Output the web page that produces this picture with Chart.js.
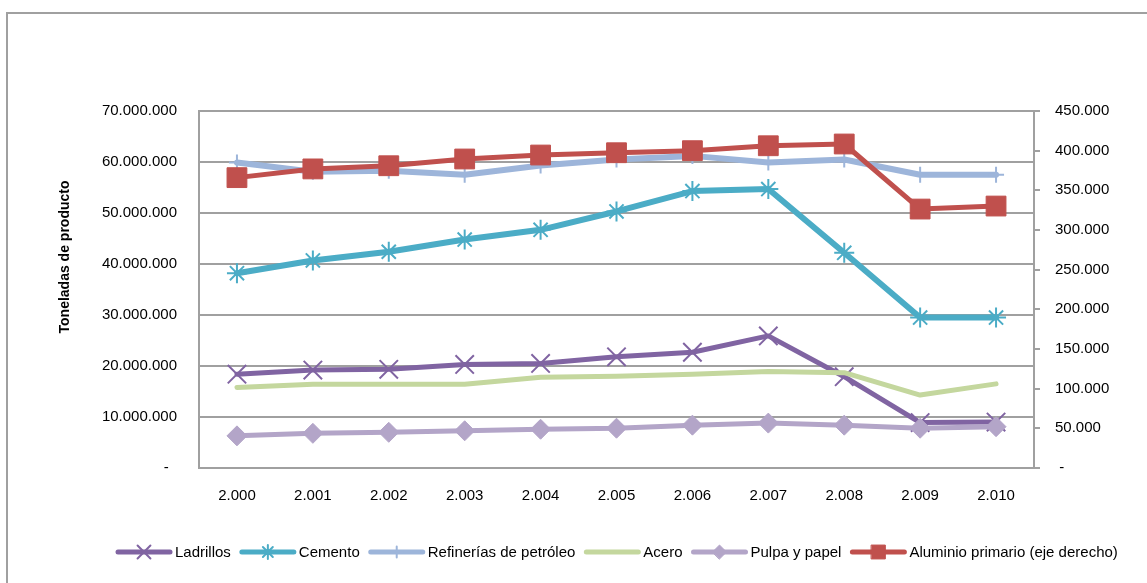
<!DOCTYPE html>
<html>
<head>
<meta charset="utf-8">
<title>Toneladas de producto</title>
<script src="https://cdn.jsdelivr.net/npm/chart.js@4/dist/chart.umd.min.js"></script>
<style>
  body { margin: 0; background: #fff; overflow: hidden; }
  #marco { position: absolute; left: 6px; top: 12px; width: 1200px; height: 650px; border: 2px solid #a0a0a0; box-sizing: border-box; }
  #grafica { position: absolute; left: 0; top: 0; }
</style>
</head>
<body>
<div id="marco"></div>
<canvas id="grafica" width="1147" height="583"></canvas>
<script>
// Años (eje X)
const anios = ["2.000", "2.001", "2.002", "2.003", "2.004", "2.005", "2.006", "2.007", "2.008", "2.009", "2.010"];

// Toneladas (eje izquierdo)
const ladrillos   = [18400000, 19200000, 19350000, 20300000, 20500000, 21800000, 22700000, 25900000, 17900000, 8900000, 9000000];
const cemento     = [38200000, 40700000, 42400000, 44800000, 46700000, 50300000, 54300000, 54700000, 42200000, 29500000, 29500000];
const refinerias  = [59900000, 58100000, 58300000, 57500000, 59300000, 60500000, 61200000, 59900000, 60500000, 57500000, 57500000];
const acero       = [15800000, 16400000, 16400000, 16400000, 17800000, 18000000, 18400000, 18900000, 18700000, 14300000, 16500000];
const pulpaPapel  = [6300000, 6800000, 7000000, 7300000, 7600000, 7800000, 8400000, 8800000, 8400000, 7800000, 8100000];

// Toneladas (eje derecho)
const aluminio    = [366000, 377000, 381000, 389500, 394500, 397400, 400000, 406200, 408400, 326400, 330200];

const FUENTE = "'Liberation Sans', Arial, sans-serif";
const GRIS = "#a0a0a0";

// formato con puntos de miles, el cero se muestra como guion
function miles(v) {
  return String(Math.round(v)).replace(/\B(?=(\d{3})+(?!\d))/g, ".");
}

// leyenda dibujada a mano: línea gruesa con el marcador en medio
const leyendaPlugin = {
  id: "leyendaLinea",
  afterDraw(chart) {
    const ctx = chart.ctx;
    const y = 552;
    let x = 116;
    ctx.save();
    ctx.font = "15px " + FUENTE;
    ctx.textBaseline = "middle";
    chart.data.datasets.forEach(ds => {
      ctx.strokeStyle = ds.borderColor;
      ctx.lineWidth = 5;
      ctx.lineCap = "round";
      ctx.beginPath();
      ctx.moveTo(x + 2, y);
      ctx.lineTo(x + 54, y);
      ctx.stroke();
      if (ds.pointRadius > 0) {
        ctx.fillStyle = ds.pointBackgroundColor;
        ctx.strokeStyle = ds.pointBorderColor;
        ctx.lineWidth = ds.pointBorderWidth;
        Chart.helpers.drawPoint(ctx, {
          pointStyle: ds.pointStyle,
          radius: ds.pointRadius * 0.7,
          rotation: 0,
          borderWidth: ds.pointBorderWidth
        }, x + 28, y);
      }
      ctx.fillStyle = "#000";
      ctx.fillText(ds.label, x + 59, y + 1);
      x += 59 + ctx.measureText(ds.label).width + 9;
    });
    ctx.restore();
  }
};

// título del eje izquierdo
const tituloPlugin = {
  id: "tituloEje",
  afterDraw(chart) {
    const ctx = chart.ctx;
    ctx.save();
    ctx.translate(65, 257);
    ctx.rotate(-Math.PI / 2);
    ctx.font = "bold 14px " + FUENTE;
    ctx.fillStyle = "#000";
    ctx.textAlign = "center";
    ctx.textBaseline = "middle";
    ctx.fillText("Toneladas de producto", 0, 0);
    ctx.restore();
  }
};

function serie(label, data, color, estilo, radio, grosor, orden, eje) {
  return {
    label: label,
    data: data,
    borderColor: color,
    backgroundColor: color,
    borderWidth: grosor,
    borderJoinStyle: "round",
    borderCapStyle: "round",
    pointStyle: estilo,
    pointRadius: radio,
    pointHoverRadius: radio,
    pointBackgroundColor: color,
    pointBorderColor: color,
    pointBorderWidth: estilo === "rect" || estilo === "rectRot" ? 1 : 2,
    tension: 0,
    fill: false,
    order: orden,
    yAxisID: eje
  };
}

const ctx = document.getElementById("grafica").getContext("2d");

new Chart(ctx, {
  type: "line",
  data: {
    labels: anios,
    datasets: [
      serie("Ladrillos", ladrillos, "#8064a2", "crossRot", 13, 5, 5, "y"),
      serie("Cemento", cemento, "#4bacc6", "star", 10, 6, 4, "y"),
      serie("Refinerías de petróleo", refinerias, "#9db5da", "cross", 8, 6, 3, "y"),
      serie("Acero", acero, "#c4d79e", "circle", 0, 5, 2, "y"),
      serie("Pulpa y papel", pulpaPapel, "#b3a5c8", "rectRot", 10, 5, 1, "y"),
      serie("Aluminio primario (eje derecho)", aluminio, "#c0504d", "rect", 14, 5, 0, "y1")
    ]
  },
  options: {
    responsive: false,
    animation: false,
    devicePixelRatio: 1,
    layout: { padding: { top: 111, left: 0, right: 0, bottom: 0 } },
    plugins: {
      legend: { display: false },
      tooltip: { enabled: false }
    },
    scales: {
      x: {
        offset: true,
        grid: { display: false },
        border: { display: true, color: GRIS, width: 2 },
        ticks: { color: "#000", font: { family: FUENTE, size: 15 }, padding: 11, maxRotation: 0 },
        afterFit(scale) { scale.height = 115; }
      },
      y: {
        position: "left",
        min: 0,
        max: 70000000,
        ticks: {
          stepSize: 10000000,
          color: "#000",
          padding: 22,
          font: { family: FUENTE, size: 15 },
          callback: v => v === 0 ? "-  " : miles(v)
        },
        grid: { color: GRIS, lineWidth: 2, drawTicks: false },
        border: { display: true, color: GRIS, width: 2 },
        afterFit(scale) { scale.width = 199; }
      },
      y1: {
        position: "right",
        min: 0,
        max: 450000,
        ticks: {
          stepSize: 50000,
          color: "#000",
          padding: 15,
          font: { family: FUENTE, size: 15 },
          callback: v => v === 0 ? " -" : miles(v)
        },
        grid: { color: GRIS, lineWidth: 2, drawOnChartArea: false, drawTicks: true, tickLength: 6 },
        border: { display: true, color: GRIS, width: 2 },
        afterFit(scale) { scale.width = 113; }
      }
    }
  },
  plugins: [leyendaPlugin, tituloPlugin]
});
</script>
</body>
</html>
